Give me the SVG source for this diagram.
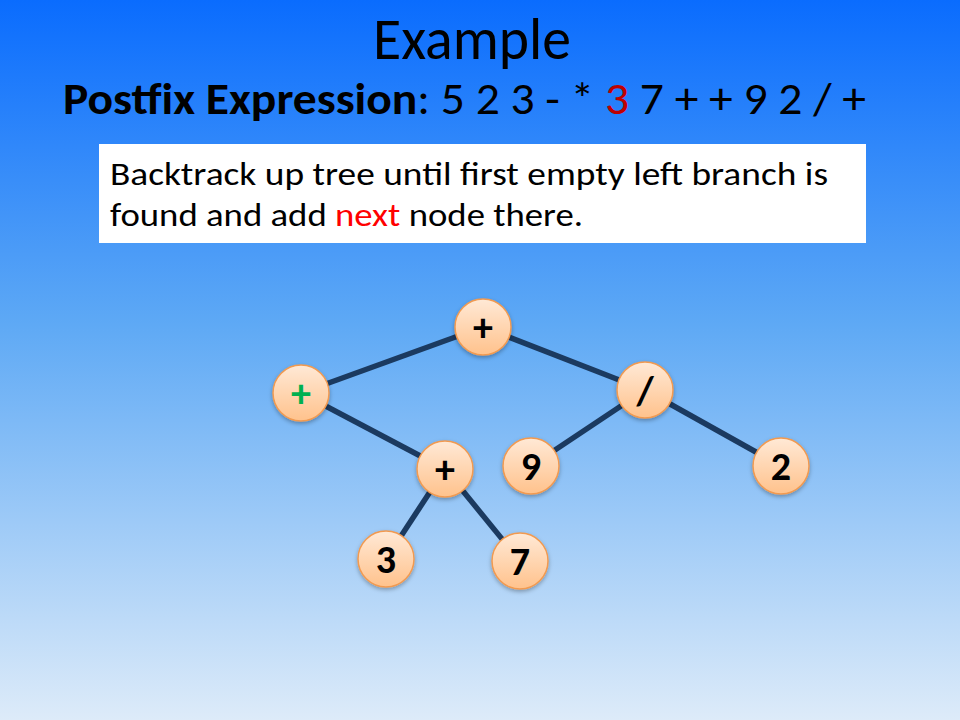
<svg xmlns="http://www.w3.org/2000/svg" width="960" height="720" viewBox="0 0 960 720">
  <defs>
    <linearGradient id="bg" x1="0" y1="0" x2="0" y2="1">
      <stop offset="0" stop-color="#0A6CFE"/>
      <stop offset="0.45" stop-color="#5EA9F5"/>
      <stop offset="1" stop-color="#DDEBF9"/>
    </linearGradient>
    <linearGradient id="nodeFill" x1="0" y1="0" x2="0" y2="1">
      <stop offset="0" stop-color="#FFE9D6"/>
      <stop offset="1" stop-color="#FFC28C"/>
    </linearGradient>
    <filter id="shadow" x="-30%" y="-30%" width="160%" height="160%">
      <feDropShadow dx="0" dy="2" stdDeviation="2" flood-color="#000" flood-opacity="0.3"/>
    </filter>
  </defs>
  <style>
    .txt { font-family: Carlito, "Open Sans", "Noto Sans", "Liberation Sans", sans-serif; fill: #000; }
    .node circle { fill: url(#nodeFill); stroke: #F29A50; stroke-width: 1.5; filter: url(#shadow); }
    .node text { font-family: Carlito, "Open Sans", "Liberation Sans", sans-serif; font-weight: 900; font-size: 40px; text-anchor: middle; fill: #000; }
    .edge { stroke: #1B3A60; stroke-width: 5.5; stroke-linecap: butt; }
  </style>

  <rect x="0" y="0" width="960" height="720" fill="url(#bg)"/>

  <!-- heading -->
  <text class="txt" x="472" y="59" font-size="60" text-anchor="middle" textLength="198" lengthAdjust="spacingAndGlyphs">Example</text>
  <text class="txt" x="63" y="114" font-size="45" textLength="803" lengthAdjust="spacingAndGlyphs"><tspan font-weight="bold">Postfix Expression</tspan>: 5 2 3 - * <tspan fill="#C00000">3</tspan> 7 + + 9 2 / +</text>

  <!-- instruction box -->
  <rect x="99" y="144" width="767" height="99" fill="#FFFFFF"/>
  <text class="txt" x="110" y="185" font-size="32" textLength="718" lengthAdjust="spacingAndGlyphs">Backtrack up tree until first empty left branch is</text>
  <text class="txt" x="110" y="226" font-size="32" textLength="473" lengthAdjust="spacingAndGlyphs">found and add <tspan fill="#FF0000">next</tspan> node there.</text>

  <!-- connectors -->
  <g id="edges">
    <line class="edge" x1="483" y1="327" x2="301" y2="393"/>
    <line class="edge" x1="483" y1="327" x2="645" y2="390"/>
    <line class="edge" x1="301" y1="393" x2="445" y2="469"/>
    <line class="edge" x1="645" y1="390" x2="531" y2="466"/>
    <line class="edge" x1="645" y1="390" x2="781" y2="466"/>
    <line class="edge" x1="445" y1="469" x2="386" y2="559"/>
    <line class="edge" x1="445" y1="469" x2="520" y2="561"/>
  </g>

  <!-- nodes -->
  <g id="node-root" class="node">
    <circle cx="483" cy="327" r="28"/>
    <text x="483" y="341">+</text>
  </g>
  <g id="node-left-plus" class="node">
    <circle cx="301" cy="393" r="28"/>
    <text x="301" y="407" style="fill:#00B050">+</text>
  </g>
  <g id="node-div" class="node">
    <circle cx="645" cy="390" r="28"/>
    <text x="645" y="404">/</text>
  </g>
  <g id="node-mid-plus" class="node">
    <circle cx="445" cy="469" r="28"/>
    <text x="445" y="483">+</text>
  </g>
  <g id="node-9" class="node">
    <circle cx="531" cy="466" r="28"/>
    <text x="531" y="480">9</text>
  </g>
  <g id="node-2" class="node">
    <circle cx="781" cy="466" r="28"/>
    <text x="781" y="480">2</text>
  </g>
  <g id="node-3" class="node">
    <circle cx="386" cy="559" r="28"/>
    <text x="386" y="573">3</text>
  </g>
  <g id="node-7" class="node">
    <circle cx="520" cy="561" r="28"/>
    <text x="520" y="575">7</text>
  </g>
</svg>
